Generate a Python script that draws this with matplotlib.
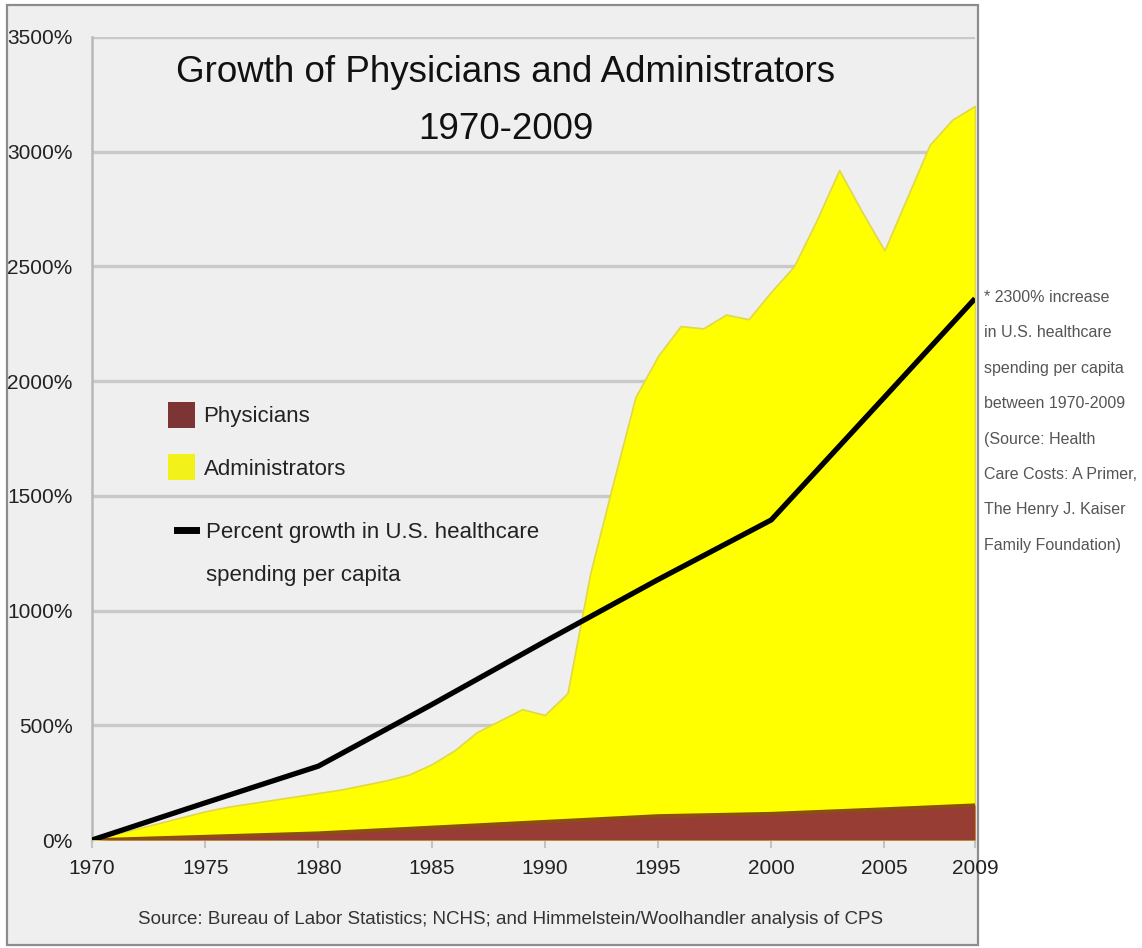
import matplotlib
matplotlib.use("Agg")
import matplotlib.pyplot as plt
from matplotlib.patches import Rectangle, Patch
from matplotlib.lines import Line2D
from matplotlib.ticker import FuncFormatter

plt.rcParams["font.family"] = ["Liberation Sans", "DejaVu Sans"]

# percent growth since 1970
admin_years = [1970, 1971, 1972, 1973, 1974, 1975, 1976, 1977, 1978, 1979,
               1980, 1981, 1982, 1983, 1984, 1985, 1986, 1987, 1988, 1989,
               1990, 1991, 1992, 1993, 1994, 1995, 1996, 1997, 1998, 1999,
               2000, 2001, 2002, 2003, 2004, 2005, 2006, 2007, 2008, 2009]
administrators = [0, 25, 50, 75, 100, 125, 145, 160, 175, 190,
                  205, 220, 240, 260, 285, 330, 390, 470, 520, 570,
                  545, 640, 1160, 1550, 1930, 2110, 2240, 2230, 2290, 2270,
                  2390, 2500, 2700, 2920, 2740, 2570, 2800, 3030, 3140, 3200]

five_years = [1970, 1975, 1980, 1985, 1990, 1995, 2000, 2005, 2009]
physicians = [0, 15, 30, 55, 80, 105, 115, 135, 152]
spending = [0, 162, 322, 590, 865, 1135, 1395, 1930, 2360]

x_ticks = [1970, 1975, 1980, 1985, 1990, 1995, 2000, 2005, 2009]
y_ticks = [0, 500, 1000, 1500, 2000, 2500, 3000, 3500]

W, H = 1142, 948
fig = plt.figure(figsize=(W / 100, H / 100), dpi=100)
fig.patch.set_facecolor("white")

# grey panel with thin border behind the chart
panel = Rectangle((7 / W, 1 - 945 / H), (978 - 7) / W, (945 - 5) / H,
                  transform=fig.transFigure, facecolor="#efefef",
                  edgecolor="#8c8c8c", linewidth=1.6, zorder=-5)
fig.patches.append(panel)

ax = fig.add_axes([92 / W, 1 - 840 / H, (975 - 92) / W, (840 - 37) / H])
ax.set_zorder(1)
ax.set_facecolor("#efefef")
ax.set_xlim(1970, 2009)
ax.set_ylim(0, 3500)

ax.fill_between(admin_years, 0, administrators, color="#ffff00",
                edgecolor="#e0d84a", linewidth=1.2, zorder=2)
ax.fill_between(five_years, 0, physicians, color="#973d34",
                linewidth=0, zorder=3)
ax.plot(five_years, physicians, color="#8a5010", linewidth=2.5, zorder=3.5)
ax.plot(five_years, spending, color="black", linewidth=3.8,
        solid_capstyle="butt", zorder=4)

ax.set_yticks(y_ticks)
ax.set_xticks(x_ticks)
ax.yaxis.set_major_formatter(FuncFormatter(lambda v, p: f"{int(v)}%"))
ax.grid(axis="y", color="#c9c9c9", linewidth=2.4, zorder=1)
ax.set_axisbelow(True)
ax.tick_params(axis="y", length=0, pad=14, labelsize=15, labelcolor="#222222")
ax.tick_params(axis="x", length=6, width=1.5, color="#c4c4c4", pad=8,
               labelsize=15, labelcolor="#222222")
for side in ["top", "right", "bottom"]:
    ax.spines[side].set_visible(False)
ax.spines["left"].set_color("#b8b8b8")
ax.spines["left"].set_linewidth(1.8)

fig.text(506 / W, 1 - 101 / H, "Growth of Physicians and Administrators\n1970-2009",
         ha="center", va="center", multialignment="center",
         fontsize=26.5, linespacing=1.85, color="#111111")

# legend: two area swatches, then the spending line with a wrapped label
leg1 = ax.legend(handles=[Patch(facecolor="#7d3434", label="Physicians"),
                          Patch(facecolor="#f2f21a", label="Administrators")],
                 loc="upper left", bbox_to_anchor=(168 / W, 1 - 402 / H),
                 bbox_transform=fig.transFigure, frameon=False, fontsize=16,
                 handlelength=1.2, handleheight=1.4, handletextpad=0.4,
                 labelspacing=1.2, borderpad=0, borderaxespad=0,
                 labelcolor="#222222")
ax.add_artist(leg1)
ax.legend(handles=[Line2D([], [], color="black", linewidth=5),
                   Line2D([], [], color="none")],
          labels=["Percent growth in U.S. healthcare", "spending per capita"],
          loc="upper left", bbox_to_anchor=(177 / W, 1 - 522 / H),
          bbox_transform=fig.transFigure, frameon=False, fontsize=16,
          handlelength=0.85, handletextpad=0.45, labelspacing=1.0,
          borderpad=0, borderaxespad=0, labelcolor="#222222")

fig.text(138 / W, 1 - 920 / H,
         "Source: Bureau of Labor Statistics; NCHS; and Himmelstein/Woolhandler analysis of CPS",
         ha="left", va="center", fontsize=13.5, color="#333333")

fig.text(984 / W, 1 - 290 / H,
         "* 2300% increase\nin U.S. healthcare\nspending per capita\nbetween 1970-2009\n"
         "(Source: Health\nCare Costs: A Primer,\nThe Henry J. Kaiser\nFamily Foundation)",
         ha="left", va="top", fontsize=11.5, linespacing=2.7, color="#555555")

fig.savefig("out.png", dpi=100, facecolor=fig.get_facecolor())
